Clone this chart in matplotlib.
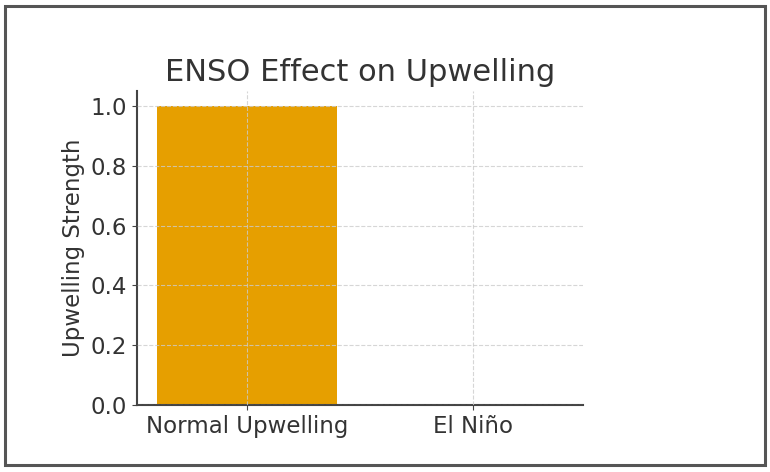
import matplotlib.pyplot as plt
from matplotlib.patches import Rectangle

categories = ['Normal Upwelling', 'El Niño']
strength = [1.0, 0.0]

fig = plt.figure(figsize=(7.7, 4.72), dpi=100)
fig.patches.append(Rectangle((0.007, 0.015), 0.986, 0.972, transform=fig.transFigure,
                             fill=False, edgecolor='#555555', linewidth=2.2))

ax = fig.add_axes([0.178, 0.142, 0.579, 0.665])
ax.bar(categories, strength, color='#E69F00', width=0.8)
ax.set_ylim(0, 1.05)
ax.grid(True, linestyle='--', color='#cccccc', linewidth=0.8, alpha=0.8)
ax.set_axisbelow(False)
for s in ['top', 'right']:
    ax.spines[s].set_visible(False)
for s in ['left', 'bottom']:
    ax.spines[s].set_color('#444444')
    ax.spines[s].set_linewidth(1.5)
ax.tick_params(labelsize=16.5, colors='#444444', labelcolor='#333333')
ax.set_title('ENSO Effect on Upwelling', fontsize=22, color='#333333', pad=7)
ax.set_ylabel('Upwelling Strength', fontsize=16.5, color='#333333')

fig.savefig('out.png', dpi=100)
